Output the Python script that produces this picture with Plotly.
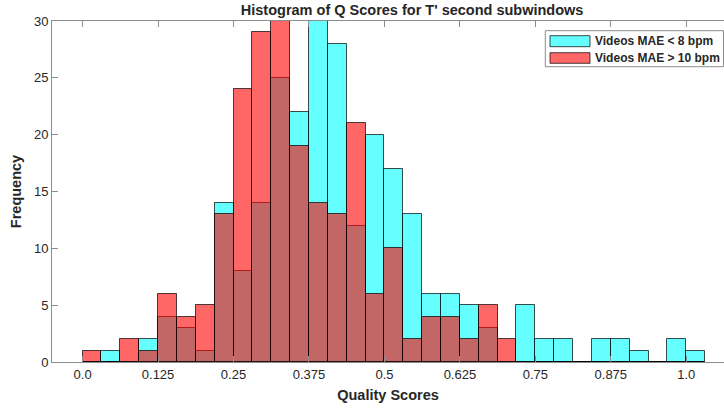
import numpy as np
import plotly.graph_objects as go

# Histogram bins (bin width 1/32 starting at 0.0)
bin_width = 0.03125
n_bins = 33
bin_centers = [(i + 0.5) * bin_width for i in range(n_bins)]

# Counts per bin
counts_low_mae = [0, 1, 0, 2, 4, 3, 1, 14, 8, 14, 25, 22, 30, 28, 12, 20, 17, 13,
                  6, 6, 5, 3, 0, 5, 2, 2, 0, 2, 2, 1, 0, 2, 1]
counts_high_mae = [1, 0, 2, 1, 6, 4, 5, 13, 24, 29, 30, 19, 14, 13, 21, 6, 10, 2,
                   4, 4, 2, 5, 2, 0, 0, 0, 0, 0, 0, 0, 0, 0, 0]

series_names = ["Videos MAE < 8 bpm", "Videos MAE > 10 bpm"]
x_tick_vals = [0.0, 0.125, 0.25, 0.375, 0.5, 0.625, 0.75, 0.875, 1.0]
x_tick_text = ["0.0", "0.125", "0.25", "0.375", "0.5", "0.625", "0.75", "0.875", "1.0"]
y_tick_vals = [0, 5, 10, 15, 20, 25, 30]

CYAN = "rgba(0,255,255,0.6)"
RED = "rgba(255,0,0,0.6)"
EDGE = "rgba(0,0,0,0.7)"
FONT = "Liberation Sans, Arial, sans-serif"
TXT = "#262626"
AX = "#8c8c8c"

fig = go.Figure()
fig.add_trace(go.Bar(x=bin_centers, y=counts_low_mae, width=bin_width,
                     marker=dict(color=CYAN, line=dict(color=EDGE, width=1)),
                     name=series_names[0], showlegend=False))
fig.add_trace(go.Bar(x=bin_centers, y=counts_high_mae, width=bin_width,
                     marker=dict(color=RED, line=dict(color=EDGE, width=1)),
                     name=series_names[1], showlegend=False))

W, H = 724, 409
L, R, T, B = 52, 0, 21, 47
pw, ph = W - L - R, H - T - B

def px_x(x):
    return (x - L) / pw

def px_y(y):
    return (H - B - y) / ph

shapes = [
    dict(type="rect", xref="paper", yref="paper",
         x0=px_x(545.3), x1=px_x(723.5), y0=px_y(66.7), y1=px_y(30.7),
         line=dict(color=AX, width=1), fillcolor="white", layer="above"),
    dict(type="rect", xref="paper", yref="paper",
         x0=px_x(550), x1=px_x(590), y0=px_y(46.7), y1=px_y(35.7),
         line=dict(color=EDGE, width=1), fillcolor=CYAN, layer="above"),
    dict(type="rect", xref="paper", yref="paper",
         x0=px_x(550), x1=px_x(590), y0=px_y(63.3), y1=px_y(52.7),
         line=dict(color=EDGE, width=1), fillcolor=RED, layer="above"),
]
annotations = [
    dict(xref="paper", yref="paper", x=px_x(592.5), y=px_y(41.2), text="<b>%s</b>" % series_names[0],
         showarrow=False, xanchor="left", yanchor="middle",
         font=dict(family=FONT, size=12, color=TXT)),
    dict(xref="paper", yref="paper", x=px_x(592.5), y=px_y(58), text="<b>%s</b>" % series_names[1],
         showarrow=False, xanchor="left", yanchor="middle",
         font=dict(family=FONT, size=12, color=TXT)),
]

fig.update_layout(
    width=W, height=H,
    margin=dict(l=L, r=R, t=T, b=B),
    paper_bgcolor="white", plot_bgcolor="white",
    barmode="overlay", bargap=0,
    showlegend=False,
    title=dict(text="<b>Histogram of Q Scores for T' second subwindows</b>",
               x=(L + pw / 2) / W, xanchor="center", xref="paper",
               y=1 - 9.5 / H, yanchor="middle", yref="container",
               font=dict(family=FONT, size=14.5, color=TXT)),
    xaxis=dict(range=[-0.0507, 1.0625], tickvals=x_tick_vals, ticktext=x_tick_text,
               showline=True, linecolor=AX, linewidth=1, mirror="ticks",
               ticks="inside", ticklen=6, tickcolor=AX, showgrid=False, zeroline=False,
               tickfont=dict(family=FONT, size=13, color=TXT),
               title=dict(text="<b>Quality Scores</b>", standoff=9,
                          font=dict(family=FONT, size=14.5, color=TXT))),
    yaxis=dict(range=[0, 30], tickvals=y_tick_vals,
               showline=True, linecolor=AX, linewidth=1, mirror=False,
               ticks="inside", ticklen=6, tickcolor=AX, showgrid=False, zeroline=False,
               tickfont=dict(family=FONT, size=13, color=TXT),
               title=dict(text="<b>Frequency</b>", standoff=8,
                          font=dict(family=FONT, size=14.5, color=TXT))),
    shapes=shapes, annotations=annotations,
)

fig.write_html("out.html", config={"displayModeBar": False},
               post_script="document.body.style.margin='0';document.body.style.padding='0';"
                           "document.documentElement.style.overflow='hidden';")
